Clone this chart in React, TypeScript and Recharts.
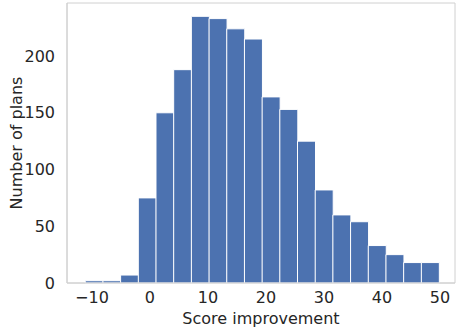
import { Bar, BarChart, Label, ReferenceArea, XAxis, YAxis } from "recharts";

// histogram bin centres (bin width ~3.05)
const binCenters = [
  -9.63, -6.58, -3.53, -0.48, 2.57, 5.62, 8.67, 11.72, 14.77, 17.82, 20.87,
  23.92, 26.97, 30.02, 33.07, 36.12, 39.17, 42.22, 45.27, 48.32,
];
const planCounts = [
  2, 2, 7, 75, 150, 188, 235, 233, 224, 215, 164, 153, 125, 82, 60, 54, 33, 25,
  18, 18,
];
const xTicks = [-10, 0, 10, 20, 30, 40, 50];
const yTicks = [0, 50, 100, 150, 200];

const X_DOMAIN: [number, number] = [-14.3, 52.6];
const Y_DOMAIN: [number, number] = [0, 246.75];

const data = binCenters.map((x, i) => ({ x, count: planCounts[i] }));

const FONT = "'DejaVu Sans', sans-serif";
const TEXT = "#262626";
const FRAME = "#d0d0d0";

export default function App() {
  return (
    <div style={{ position: "absolute", left: 0, top: 0, fontFamily: FONT }}>
      <BarChart
        width={456}
        height={333}
        data={data}
        margin={{ top: 3, right: 1, bottom: 0, left: 0 }}
        barCategoryGap={0}
        barGap={0}
      >
        <XAxis
          dataKey="x"
          type="number"
          domain={X_DOMAIN}
          ticks={xTicks}
          allowDataOverflow
          tickLine={false}
          axisLine={{ stroke: FRAME }}
          tick={{ fill: TEXT, fontSize: 16, fontFamily: FONT }}
          tickMargin={3}
          tickFormatter={(v: number) => (v < 0 ? `\u2212${Math.abs(v)}` : `${v}`)}
          height={50}
        >
          <Label
            value="Score improvement"
            position="insideBottom"
            offset={9}
            style={{ fill: TEXT, fontSize: 16, fontFamily: FONT }}
          />
        </XAxis>
        <YAxis
          domain={Y_DOMAIN}
          ticks={yTicks}
          tickLine={false}
          axisLine={{ stroke: FRAME }}
          tick={{ fill: TEXT, fontSize: 16, fontFamily: FONT }}
          tickMargin={6}
          width={67}
        >
          <Label
            value="Number of plans"
            angle={-90}
            position="insideLeft"
            offset={16}
            style={{ textAnchor: "middle", fill: TEXT, fontSize: 16, fontFamily: FONT }}
          />
        </YAxis>
        <Bar
          dataKey="count"
          fill="#4c72b0"
          stroke="#ffffff"
          strokeWidth={1}
          isAnimationActive={false}
        />
        {/* light frame around the plot area */}
        <ReferenceArea
          x1={X_DOMAIN[0]}
          x2={X_DOMAIN[1]}
          y1={Y_DOMAIN[0]}
          y2={Y_DOMAIN[1]}
          fill="none"
          stroke={FRAME}
          strokeWidth={1}
          ifOverflow="visible"
        />
      </BarChart>
    </div>
  );
}
